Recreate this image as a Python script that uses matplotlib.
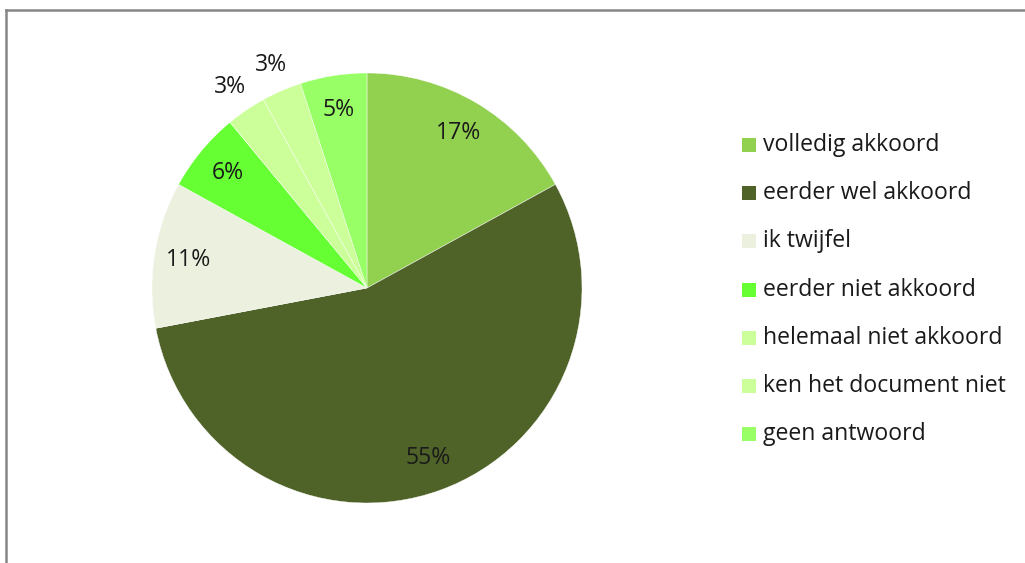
import numpy as np
import matplotlib.pyplot as plt
from matplotlib.patches import Rectangle
from matplotlib.lines import Line2D

labels = ['volledig akkoord', 'eerder wel akkoord', 'ik twijfel', 'eerder niet akkoord',
          'helemaal niet akkoord', 'ken het document niet', 'geen antwoord']
values = [17, 55, 11, 6, 3, 3, 5]
colors = ['#92D050', '#4F6228', '#EBF1DE', '#66FF33', '#CCFF99', '#CCFF99', '#99FF66']
outside = [False, False, False, False, True, True, False]

W, H = 1025, 563
FS = 16.6
plt.rcParams['font.family'] = ['Open Sans', 'DejaVu Sans']

fig = plt.figure(figsize=(W / 100, H / 100), dpi=100)

# pie centre (367, 288) px, radius 215 px
cx, cy, r = 367, 288, 215
ax = fig.add_axes([(cx - r) / W, (H - cy - r) / H, 2 * r / W, 2 * r / H])
wedges, _ = ax.pie(values, colors=colors, startangle=90, counterclock=False,
                   wedgeprops=dict(edgecolor='white', linewidth=0.3))
ax.set_xlim(-1, 1)
ax.set_ylim(-1, 1)
ax.set_aspect('equal')
ax.axis('off')

for w, v, out in zip(wedges, values, outside):
    mid = np.deg2rad((w.theta1 + w.theta2) / 2)
    d = 1.13 if out else 0.84
    ax.text(d * np.cos(mid), d * np.sin(mid), f'{v}%', ha='center', va='center',
            fontsize=FS, color='#1a1a1a')

# legend
for i, (lab, col) in enumerate(zip(labels, colors)):
    y = H - (145 + i * 48.2)
    fig.patches.append(Rectangle((742 / W, (y - 7) / H), 14 / W, 14 / H,
                                 facecolor=col, edgecolor='none',
                                 transform=fig.transFigure, figure=fig))
    fig.text(763 / W, y / H, lab, ha='left', va='center', fontsize=FS, color='#1a1a1a')

# chart frame (top and left edges visible)
fig.lines.append(Line2D([6 / W, 1], [(H - 9.5) / H] * 2, color='#868686', lw=1.8,
                        transform=fig.transFigure, figure=fig))
fig.lines.append(Line2D([6 / W] * 2, [0, (H - 9.5) / H], color='#868686', lw=1.8,
                        transform=fig.transFigure, figure=fig))

fig.savefig('out.png', dpi=100, facecolor='white')
